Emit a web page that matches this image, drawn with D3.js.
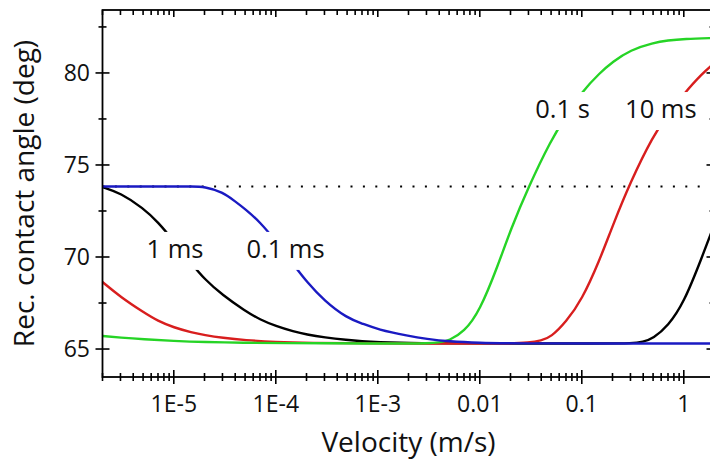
<!DOCTYPE html>
<html lang="en">
<head>
<meta charset="UTF-8">
<title>Receding contact angle vs velocity</title>
<script src="https://cdn.jsdelivr.net/npm/d3@7"></script>
<style>
    body { margin: 0; background: #fff; }
    svg { display: block; font-family: "Open Sans", sans-serif; }
</style>
</head>
<body>
<div id="graphic"></div>
<script>
    // [velocity (m/s), receding contact angle (deg)]
    var curve01ms = [
        [2e-6, 73.83], [1e-5, 73.83], [1.5e-5, 73.83], [2e-5, 73.82], [3e-5, 73.53],
        [4e-5, 73.02], [5e-5, 72.61], [7e-5, 71.9], [1e-4, 70.87], [1.5e-4, 69.57],
        [2e-4, 68.67], [3e-4, 67.61], [5e-4, 66.68], [7e-4, 66.39], [1e-3, 66.06],
        [2e-3, 65.71], [3e-3, 65.55], [5e-3, 65.41], [1e-2, 65.33], [2e-2, 65.3], [2, 65.3]
    ];
    var curve1ms = [
        [2e-6, 73.8], [3e-6, 73.48], [5e-6, 72.66], [7e-6, 71.9], [1e-5, 70.87],
        [1.5e-5, 69.62], [2e-5, 68.8], [3e-5, 67.93], [5e-5, 67.07], [7e-5, 66.6],
        [1e-4, 66.25], [1.5e-4, 65.95], [2e-4, 65.79], [3e-4, 65.63], [5e-4, 65.49],
        [7e-4, 65.42], [1e-3, 65.37], [2e-3, 65.33], [5e-3, 65.3], [0.2, 65.3],
        [0.3, 65.31], [0.4, 65.38], [0.5, 65.57], [0.7, 66.25], [1, 67.5],
        [1.5, 69.95], [2, 71.8]
    ];
    var curve10ms = [
        [2e-6, 68.64], [3e-6, 67.83], [5e-6, 67.01], [7e-6, 66.52], [1e-5, 66.17],
        [1.5e-5, 65.9], [2e-5, 65.76], [3e-5, 65.61], [5e-5, 65.48], [1e-4, 65.38],
        [2e-4, 65.33], [1e-3, 65.3], [1e-2, 65.3], [2e-2, 65.31], [3e-2, 65.35],
        [4e-2, 65.45], [5e-2, 65.65], [7e-2, 66.47], [0.1, 67.66], [0.15, 69.84],
        [0.2, 71.68], [0.3, 74.08], [0.5, 76.58], [0.7, 77.77], [1, 78.86],
        [1.5, 79.95], [2, 80.54]
    ];
    var curve01s = [
        [2e-6, 65.71], [3e-6, 65.62], [5e-6, 65.53], [1e-5, 65.44], [2e-5, 65.38],
        [5e-5, 65.34], [1e-4, 65.32], [1e-3, 65.3], [2e-3, 65.3], [3e-3, 65.31],
        [4e-3, 65.35], [5e-3, 65.46], [7e-3, 65.92], [1e-2, 67.07], [1.5e-2, 69.51],
        [2e-2, 71.47], [3e-2, 73.8], [5e-2, 76.36], [7e-2, 77.66], [0.1, 78.97],
        [0.15, 80.0], [0.2, 80.6], [0.3, 81.25], [0.5, 81.63], [0.7, 81.77],
        [1, 81.85], [2, 81.9]
    ];
    var plateauAngle = 73.83;

    var xMajor = [1e-5, 1e-4, 1e-3, 1e-2, 0.1, 1];
    var xMajorLabels = ['1E-5', '1E-4', '1E-3', '0.01', '0.1', '1'];
    var yMajor = [65, 70, 75, 80];
    var yMinor = [67.5, 72.5, 77.5, 82.5];

    var width = 710;
    var height = 467;

    var x = d3.scaleLog().domain([2e-6, 2]).range([102.5, 714.5]);
    var y = d3.scaleLinear().domain([63.48, 83.42]).range([377, 10]);

    // minor log ticks 2..9 in every decade
    var xMinor = [];
    for (var e = -6; e <= 0; e++) {
        for (var m = 2; m <= 9; m++) {
            var v = m * Math.pow(10, e);
            if (v >= 2e-6 && v <= 2) xMinor.push(v);
        }
    }

    var svg = d3.select('#graphic')
        .append('svg')
        .attr('width', width)
        .attr('height', height);

    var x0 = x.range()[0], x1 = x.range()[1];
    var yB = y.range()[0], yT = y.range()[1];

    // dotted plateau line
    svg.append('line')
        .attr('x1', x0).attr('x2', x1)
        .attr('y1', y(plateauAngle)).attr('y2', y(plateauAngle))
        .attr('stroke', '#000')
        .attr('stroke-width', 2.2)
        .attr('stroke-dasharray', '2 10.4');

    // smooth through the read-off points
    var line = d3.line()
        .x(d => x(d[0]))
        .y(d => y(d[1]))
        .curve(d3.curveBasis);

    var series = [
        { data: curve1ms, color: '#000000' },
        { data: curve10ms, color: '#d81e1e' },
        { data: curve01s, color: '#26d426' },
        { data: curve01ms, color: '#1a1ac2' }
    ];

    svg.selectAll('.curve')
        .data(series)
        .join('path')
        .attr('class', 'curve')
        .attr('d', d => line(d.data))
        .attr('fill', 'none')
        .attr('stroke', d => d.color)
        .attr('stroke-width', 2.4);

    // curve labels, with white boxes knocking out the lines
    var labelSpots = [
        { text: '1 ms', v: 5.4e-6, a: 69.95 },
        { text: '0.1 ms', v: 5.15e-5, a: 69.95 },
        { text: '0.1 s', v: 0.0349, a: 77.55 },
        { text: '10 ms', v: 0.2655, a: 77.55 }
    ];
    labelSpots.forEach(function(l) {
        var g = svg.append('g');
        var t = g.append('text')
            .attr('x', x(l.v))
            .attr('y', y(l.a))
            .attr('font-size', 25.5)
            .attr('fill', '#111')
            .text(l.text);
        var b = t.node().getBBox();
        g.insert('rect', 'text')
            .attr('x', b.x - 2)
            .attr('y', b.y + 1)
            .attr('width', b.width + 4)
            .attr('height', b.height + 4)
            .attr('fill', '#fff');
    });

    // frame
    var axisColor = '#000';
    svg.append('rect')
        .attr('x', x0).attr('y', yT)
        .attr('width', x1 - x0).attr('height', yB - yT)
        .attr('fill', 'none')
        .attr('stroke', axisColor)
        .attr('stroke-width', 1.8);

    function ticks(vals, pos, a, b, horizontal) {
        svg.append('g').selectAll('line')
            .data(vals)
            .join('line')
            .attr('x1', d => horizontal ? pos(d) : a)
            .attr('x2', d => horizontal ? pos(d) : b)
            .attr('y1', d => horizontal ? a : pos(d))
            .attr('y2', d => horizontal ? b : pos(d))
            .attr('stroke', axisColor)
            .attr('stroke-width', 1.6);
    }

    // bottom (crossing), top (inward)
    ticks(xMajor, x, yB - 7, yB + 7, true);
    ticks(xMinor, x, yB - 4, yB + 4, true);
    ticks(xMajor, x, yT, yT + 7, true);
    ticks(xMinor, x, yT, yT + 5, true);
    // left (crossing), right
    ticks(yMajor, y, x0 - 7, x0 + 7, false);
    ticks(yMinor, y, x0 - 4, x0 + 4, false);
    ticks(yMajor, y, x1 - 8, x1 + 8, false);
    ticks(yMinor, y, x1 - 5, x1 + 5, false);

    svg.append('g').selectAll('text')
        .data(xMajor)
        .join('text')
        .attr('x', d => x(d))
        .attr('y', 412)
        .attr('text-anchor', 'middle')
        .attr('font-size', 23)
        .attr('fill', '#111')
        .text((d, i) => xMajorLabels[i]);

    svg.append('g').selectAll('text')
        .data(yMajor)
        .join('text')
        .attr('x', 90)
        .attr('y', d => y(d))
        .attr('dy', '0.36em')
        .attr('text-anchor', 'end')
        .attr('font-size', 23)
        .attr('fill', '#111')
        .text(d => d);

    // axis titles
    svg.append('text')
        .attr('x', (x0 + x1) / 2)
        .attr('y', 452)
        .attr('text-anchor', 'middle')
        .attr('font-size', 28)
        .attr('fill', '#111')
        .text('Velocity (m/s)');

    svg.append('text')
        .attr('transform', 'translate(34,' + ((yB + yT) / 2) + ') rotate(-90)')
        .attr('text-anchor', 'middle')
        .attr('font-size', 28)
        .attr('fill', '#111')
        .text('Rec. contact angle (deg)');
</script>
</body>
</html>
